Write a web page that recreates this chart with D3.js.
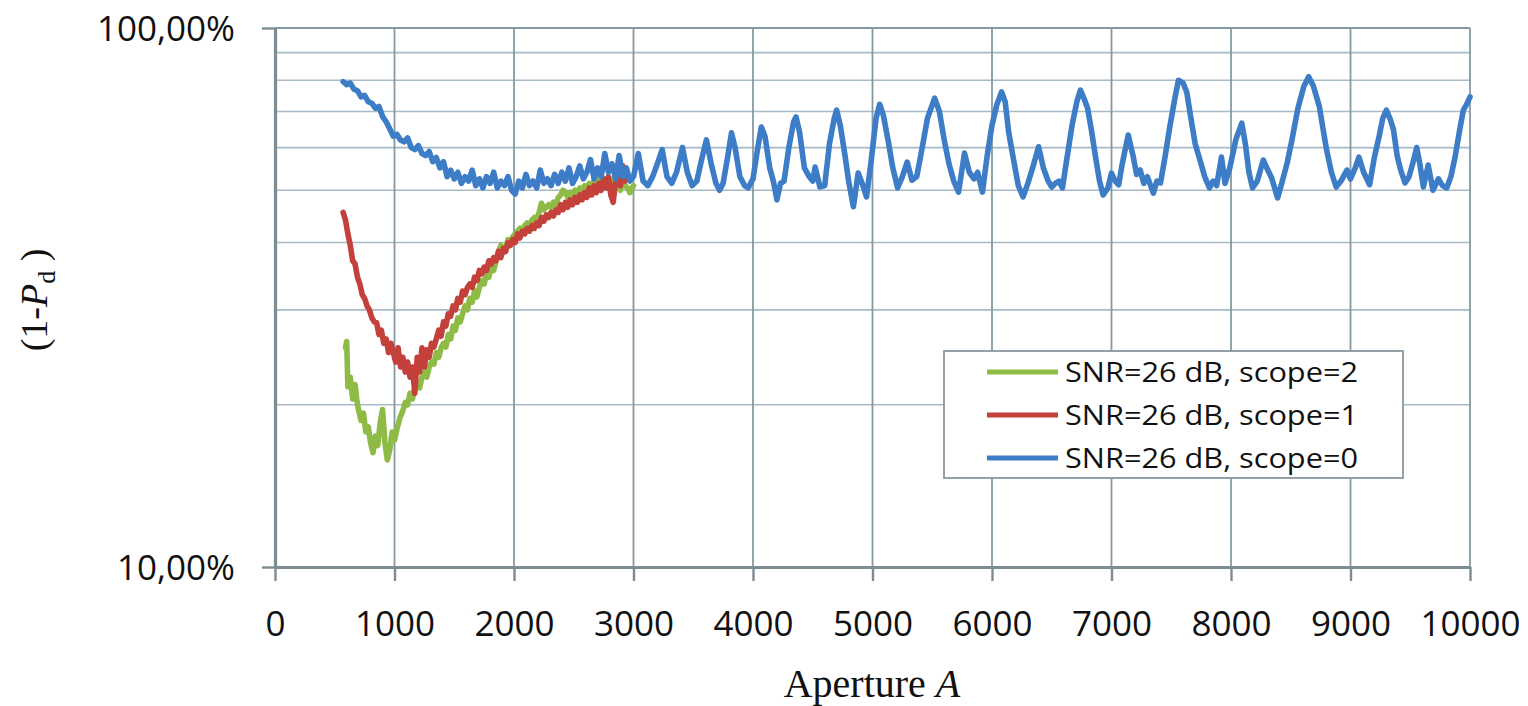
<!DOCTYPE html>
<html>
<head>
<meta charset="utf-8">
<script src="https://cdn.jsdelivr.net/npm/d3@7"></script>
<style>
  body { margin: 0; background: #fff; }
  svg { display: block; }
</style>
</head>
<body>
<svg width="1528" height="706"></svg>
<script>
// aperture ticks and y ticks
const xTicks = [0, 1000, 2000, 3000, 4000, 5000, 6000, 7000, 8000, 9000, 10000]
const yMajor = [0.1, 1]
const yGrid = [0.2, 0.3, 0.4, 0.5, 0.6, 0.7, 0.8, 0.9]

const seriesNames = ["SNR=26 dB, scope=2", "SNR=26 dB, scope=1", "SNR=26 dB, scope=0"]
const seriesColors = ["#8dbb45", "#c4403a", "#3d7cc6"]

// [aperture, (1-Pd) in %]
const green = [
  [590,25.5],[600,26.2],[610,21.6],[630,22.5],[650,20.5],[670,21.8],[685,20.4],[700,19.5],[720,18.7],[740,19.3],
  [760,17.8],[780,18.2],[800,17],[820,16.3],[840,17.5],[860,16.8],[880,18.5],[900,19.6],[920,17],[940,15.8],
  [960,16.5],[980,17.8],[1000,17.2],[1020,18],[1045,18.9],[1070,19.5],[1090,20.2],[1110,20],[1130,21],[1150,20.5],
  [1170,21.5],[1190,22],[1210,21.5],[1230,22.5],[1250,23],[1270,22.5],[1290,23.5],[1310,24],[1330,23.8],[1350,25],
  [1370,24.5],[1390,25.5],[1410,26],[1430,25.6],[1450,27],[1470,26.5],[1490,28],[1510,27.5],[1530,29],[1550,28.5],
  [1570,29.5],[1590,30.5],[1610,30],[1630,31.5],[1650,31],[1670,32.5],[1690,31.7],[1710,33],[1730,34],[1750,33.5],
  [1770,35],[1790,34.5],[1810,36],[1830,35.5],[1850,37],[1870,38.5],[1890,39.5],[1910,38.5],[1930,39],[1950,40.5],
  [1970,40],[1990,41],[2010,41.5],[2030,42],[2050,42.5],[2070,42],[2090,43],[2110,43.5],[2130,43],[2150,44],
  [2170,44.5],[2190,44],[2210,45.5],[2230,47.3],[2250,46],[2270,46.5],[2290,47],[2310,46.5],[2330,47.5],[2350,47],
  [2370,48.5],[2390,49],[2410,50],[2430,49.5],[2450,48.5],[2470,49.5],[2490,49],[2510,50],[2530,49.5],[2550,50.5],
  [2570,50],[2590,51],[2610,50.5],[2630,51.5],[2650,51],[2670,52],[2690,51.5],[2710,52.5],[2730,51],[2750,52.5],
  [2770,51.5],[2790,52],[2810,51],[2830,52.5],[2850,51.5],[2870,53],[2890,50],[2910,52],[2930,51],[2950,50.5],
  [2970,49.5],[3000,51]
]

const red = [
  [570,45.5],[590,44],[610,41.5],[630,39.5],[650,37],[670,36.5],[690,34.5],[710,33.5],[730,32],[750,31.5],
  [770,30.5],[790,30],[810,29],[830,28.5],[850,28.4],[870,27],[890,27.5],[910,26],[930,26.5],[950,25],
  [970,26],[990,25],[1010,24],[1030,25.5],[1050,23.5],[1070,24.5],[1090,23],[1110,24],[1130,22.5],[1150,23.5],
  [1170,21],[1190,24.5],[1210,23],[1230,25.5],[1250,23.5],[1270,25.3],[1290,24.5],[1310,26],[1330,25.6],[1350,26.5],
  [1370,27.5],[1390,26.8],[1410,28.5],[1430,28],[1450,29.5],[1470,29.2],[1490,30.5],[1510,30],[1530,31.5],[1550,31],
  [1570,32.5],[1590,32],[1610,33],[1630,33.5],[1650,33],[1670,34.5],[1690,34],[1710,35.5],[1730,35],[1750,36],
  [1770,35.5],[1790,37],[1810,36.5],[1830,37.5],[1850,37],[1870,38.5],[1890,37.5],[1910,39],[1930,38.5],[1950,40],
  [1970,39.5],[1990,40.5],[2010,40],[2030,41.5],[2050,40.8],[2070,42],[2090,41.5],[2110,42.5],[2130,42],[2150,43],
  [2170,42.5],[2190,43.5],[2210,43],[2230,44.5],[2250,43.8],[2270,45],[2290,44.5],[2310,45.5],[2330,44.8],[2350,46],
  [2370,45.5],[2390,47],[2410,46],[2430,47.5],[2450,46.5],[2470,48],[2490,47],[2510,48.5],[2530,47.5],[2550,49],
  [2570,48],[2590,49.5],[2610,48.5],[2630,50.5],[2650,49],[2670,51],[2690,49.5],[2710,51.5],[2730,50],[2750,52.5],
  [2770,50.5],[2790,53],[2810,49],[2830,47.5],[2850,52],[2870,54],[2890,51],[2910,55.5],[2930,52]
]

const blue = [
  [570,79.5],[600,78.5],[630,79],[660,77],[690,76.5],[720,74.5],[750,75],[780,73],[810,72.5],[840,71],
  [870,71.5],[900,68.5],[930,67],[960,65],[990,63],[1020,63.5],[1050,62],[1080,61.5],[1110,62.5],[1140,60],
  [1170,59.5],[1200,60.5],[1230,58.5],[1260,58],[1290,59],[1320,56.5],[1350,57.5],[1380,55],[1410,56.5],[1440,53],
  [1470,54.5],[1500,52.5],[1530,54],[1560,51.5],[1590,53],[1620,52],[1650,54.5],[1680,51],[1710,52.5],[1740,50.5],
  [1770,53],[1800,51.5],[1830,54],[1860,50.5],[1890,52],[1920,51],[1950,53],[1980,50],[2010,49.2],[2040,52],
  [2070,50.5],[2100,53.5],[2130,51],[2160,52],[2190,50.5],[2220,54.5],[2250,51.5],[2280,52.5],[2310,51],[2340,53.5],
  [2370,51.5],[2400,54],[2430,52],[2460,55],[2490,51.5],[2520,53],[2550,55.5],[2580,52.5],[2610,54],[2640,57],
  [2670,52.5],[2700,55],[2730,53],[2760,58.5],[2790,54],[2820,56],[2850,52.5],[2880,58],[2910,53],[2940,55],
  [2970,52],[3000,53],[3040,58.5],[3080,52],[3120,51],[3160,53],[3200,56],[3240,59.5],[3280,53],[3320,51.5],
  [3360,54],[3410,60],[3450,54],[3490,51],[3530,52],[3570,57],[3610,62],[3650,56],[3690,51.5],[3720,50],
  [3750,51.5],[3790,58],[3820,63.9],[3850,60],[3890,53],[3930,51],[3960,50.5],[4000,52.5],[4040,60],[4070,65.5],
  [4100,63],[4140,55],[4170,52],[4200,48],[4230,51.5],[4260,52],[4300,60],[4340,67],[4360,68.4],[4390,64],
  [4430,55],[4470,53],[4500,52],[4520,55.2],[4560,50.7],[4600,51],[4640,61],[4680,68],[4700,70.4],[4730,66],
  [4770,58],[4800,52],[4840,46.6],[4880,53.8],[4920,51],[4950,48.6],[4990,57],[5030,68],[5060,72.2],[5090,69],
  [5130,62],[5170,55],[5210,50.5],[5250,53],[5290,56.4],[5330,52.2],[5370,53],[5410,59],[5460,68],[5520,74.1],
  [5560,70],[5600,62],[5640,56],[5680,52],[5720,49.6],[5770,58.6],[5810,54],[5850,52.5],[5880,54],[5920,49.6],
  [5960,58],[6000,66],[6040,72],[6080,76.1],[6110,73],[6140,64],[6180,57],[6220,51],[6260,48.6],[6300,51.5],
  [6340,55],[6390,60.2],[6430,55],[6470,52],[6500,50.7],[6530,51.5],[6560,52],[6590,50.5],[6620,56],[6670,66],
  [6710,73],[6740,76.7],[6770,74],[6800,71],[6830,65],[6870,57],[6900,52],[6930,49],[6970,50.5],[7000,53.8],
  [7030,52],[7060,51.2],[7090,56],[7140,63.3],[7180,58],[7210,53.5],[7240,54.5],[7270,51.5],[7300,53],[7350,49.4],
  [7380,52],[7410,51.6],[7450,58],[7490,66],[7530,74],[7560,80],[7600,79],[7630,76],[7660,69],[7700,61],
  [7740,56.9],[7780,53],[7820,50.5],[7850,52],[7880,51],[7920,57.6],[7950,51.5],[7990,55],[8040,62],[8090,66.6],
  [8120,61],[8150,54],[8180,50.5],[8220,52],[8270,56.9],[8300,55],[8340,52.7],[8390,48.4],[8430,52],[8470,56.2],
  [8510,62],[8560,71],[8610,78],[8650,81.2],[8690,78],[8740,71.4],[8770,65],[8800,59.4],[8840,54],[8880,50.7],
  [8920,52],[8970,54.5],[9000,52.5],[9040,55],[9070,57.6],[9110,54],[9160,51.2],[9200,57.6],[9240,63],[9270,68],
  [9300,70.4],[9330,68],[9360,64.7],[9390,58],[9420,54.5],[9456,51.6],[9490,53],[9520,56],[9554,60],[9580,56],
  [9610,50.7],[9650,55.7],[9690,50],[9735,52.5],[9770,51],[9805,50.5],[9840,53],[9875,57.6],[9910,64],[9944,70.4],
  [9970,72],[10000,74.5]
]

const svg = d3.select("svg")

const x = d3.scaleLinear().domain([0, 10000]).range([275, 1470])
const y = d3.scaleLog().domain([0.1, 1]).range([567, 28])

const tickFont = "'Open Sans', 'Noto Sans', sans-serif"
const serif = "'Liberation Serif', 'DejaVu Serif', serif"

// horizontal gridlines
svg.append("g")
  .selectAll("line")
  .data(yGrid)
  .enter().append("line")
  .attr("x1", x(0)).attr("x2", x(10000))
  .attr("y1", d => y(d)).attr("y2", d => y(d))
  .attr("stroke", "#a7bac6")
  .attr("stroke-width", 1.6)

// vertical gridlines
svg.append("g")
  .selectAll("line")
  .data(xTicks.slice(1))
  .enter().append("line")
  .attr("x1", d => x(d)).attr("x2", d => x(d))
  .attr("y1", y(1)).attr("y2", y(0.1))
  .attr("stroke", "#8599a4")
  .attr("stroke-width", 1.8)

// top line (100%)
svg.append("line")
  .attr("x1", x(0)).attr("x2", x(10000))
  .attr("y1", y(1)).attr("y2", y(1))
  .attr("stroke", "#8599a4")
  .attr("stroke-width", 1.8)

// axes
const xAxis = svg.append("g")
  .attr("transform", `translate(0,${y(0.1)})`)
  .call(d3.axisBottom(x).tickValues(xTicks).tickSize(14).tickSizeOuter(0).tickFormat(d => String(d)))

const locale = d3.formatLocale({decimal: ",", thousands: ".", grouping: [3], currency: ["", "€"]})
const pct = locale.format(".2%")

const yAxis = svg.append("g")
  .attr("transform", `translate(${x(0)},0)`)
  .call(d3.axisLeft(y).tickValues(yMajor).tickSize(13).tickSizeOuter(0).tickFormat(pct))

xAxis.select(".domain").attr("stroke", "#7d8b93").attr("stroke-width", 3.2)
yAxis.select(".domain").attr("stroke", "#7d8b93").attr("stroke-width", 3.2)
xAxis.selectAll(".tick line").attr("stroke", "#7d8b93").attr("stroke-width", 2.4)
yAxis.selectAll(".tick line").attr("stroke", "#7d8b93").attr("stroke-width", 2.4)

xAxis.selectAll(".tick text")
  .attr("y", 69).attr("dy", null)
  .attr("font-family", tickFont).attr("font-size", 35).attr("fill", "#111")
yAxis.selectAll(".tick text")
  .attr("x", -40).attr("dy", "0.37em")
  .attr("font-family", tickFont).attr("font-size", 35).attr("fill", "#111")

// series
const line = d3.line()
  .x(d => x(d[0]))
  .y(d => y(d[1] / 100))

const allSeries = [green, red, blue]
svg.append("g")
  .selectAll("path")
  .data(allSeries)
  .enter().append("path")
  .attr("d", line)
  .attr("fill", "none")
  .attr("stroke", (d, i) => seriesColors[i])
  .attr("stroke-width", 5.6)
  .attr("stroke-linejoin", "round")
  .attr("stroke-linecap", "round")

// legend
const legend = svg.append("g")
legend.append("rect")
  .attr("x", 944).attr("y", 351)
  .attr("width", 459).attr("height", 127)
  .attr("fill", "#fff")
  .attr("stroke", "#8a979e")
  .attr("stroke-width", 1.8)

const baselines = [382, 425, 468]
seriesNames.forEach((name, i) => {
  legend.append("line")
    .attr("x1", 987).attr("x2", 1058)
    .attr("y1", baselines[i] - 10).attr("y2", baselines[i] - 10)
    .attr("stroke", seriesColors[i])
    .attr("stroke-width", 5)
  legend.append("text")
    .attr("x", 1065).attr("y", baselines[i])
    .attr("font-family", tickFont).attr("font-size", 28)
    .attr("fill", "#111")
    .attr("textLength", 293).attr("lengthAdjust", "spacingAndGlyphs")
    .text(name)
})

// axis titles
const xt = svg.append("text")
  .attr("x", 872).attr("y", 697)
  .attr("text-anchor", "middle")
  .attr("font-family", serif).attr("font-size", 40).attr("fill", "#111")
xt.append("tspan").text("Aperture ")
xt.append("tspan").attr("font-style", "italic").text("A")

const yt = svg.append("text")
  .attr("transform", "translate(47,300) rotate(-90)")
  .attr("text-anchor", "middle")
  .attr("font-family", serif).attr("font-size", 38).attr("fill", "#111")
yt.append("tspan").text("(1-")
yt.append("tspan").attr("font-style", "italic").text("P")
yt.append("tspan").attr("font-size", 26).attr("dy", 8).text("d")
yt.append("tspan").attr("dy", -8).text(" )")
</script>
</body>
</html>
